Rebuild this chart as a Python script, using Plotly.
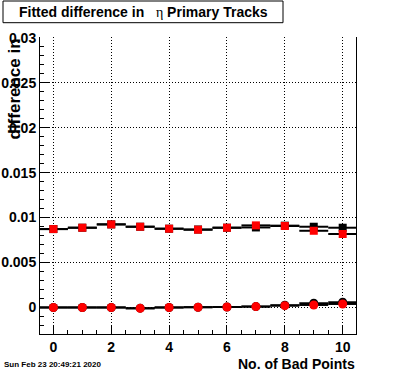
import plotly.graph_objects as go

# ---- data ----
bad_points = [0, 1, 2, 3, 4, 5, 6, 7, 8, 9, 10]
upper_black = [0.00872, 0.00887, 0.00924, 0.00898, 0.00876, 0.00867, 0.00887, 0.00890, 0.00910, 0.00898, 0.00887]
upper_red = [0.00872, 0.00887, 0.00924, 0.00898, 0.00876, 0.00865, 0.00887, 0.00913, 0.00906, 0.00853, 0.00817]
lower_black = [0.0, 0.0, 0.0, -0.00008, 0.0, 0.00003, 0.00005, 0.00010, 0.00025, 0.00047, 0.00058]
lower_red = [0.0, 0.0, 0.0, -0.00010, 0.0, 0.00003, 0.00005, 0.00010, 0.00020, 0.00028, 0.00039]
bin_half_width = 0.5

x_tickvals = [0, 2, 4, 6, 8, 10]
x_ticktext = ["0", "2", "4", "6", "8", "10"]
y_tickvals = [0, 0.005, 0.01, 0.015, 0.02, 0.025, 0.03]
y_ticktext = ["0", "0.005", "0.01", "0.015", "0.02", "0.025", "0.03"]

title_text = ("Fitted difference in   <span style=\"font-family:Liberation Serif;"
              "font-weight:normal;color:black\">η</span> Primary Tracks")
x_title = "No. of Bad Points"
y_title = "difference in"
date_text = "Sun Feb 23 20:49:21 2020"

W, H = 396, 372
L, R, T, B = 40, 40, 37, 38
PW, PH = W - L - R, H - T - B


def px_x(px):
    return (px - L) / PW


def px_y(py):
    return (H - B - py) / PH


FONT = "Liberation Sans, Arial, sans-serif"

fig = go.Figure()


def add_series(yvals, color, symbol, size):
    fig.add_trace(go.Scatter(
        x=bad_points, y=yvals, mode="markers",
        marker=dict(color=color, symbol=symbol, size=size, line=dict(width=0)),
        error_x=dict(type="constant", value=bin_half_width, width=0, thickness=2, color="black"),
        showlegend=False, hoverinfo="skip",
    ))


add_series(upper_black, "black", "square", 8)
add_series(lower_black, "black", "circle", 9)
add_series(upper_red, "red", "square", 8)
add_series(lower_red, "red", "circle", 9)

axis_font = dict(family=FONT, size=14, color="black", weight="bold")

fig.update_layout(
    width=W, height=H,
    margin=dict(l=L, r=R, t=T, b=B, pad=0, autoexpand=False),
    paper_bgcolor="white", plot_bgcolor="white",
    xaxis=dict(
        range=[-0.463, 10.46], tickvals=x_tickvals, ticktext=x_ticktext, automargin=False,
        ticks="inside", ticklen=8, tickwidth=1, tickcolor="black",
        showline=True, linecolor="black", linewidth=1, mirror=False,
        showgrid=True, gridcolor="black", gridwidth=1, griddash="1px,2px",
        zeroline=False, tickfont=axis_font,
        minor=dict(dtick=0.5, tick0=-0.5, ticks="inside", ticklen=4, tickcolor="black", showgrid=False),
    ),
    yaxis=dict(
        range=[-0.00295, 0.03008], tickvals=y_tickvals, ticktext=y_ticktext, automargin=False,
        ticks="inside", ticklen=9, tickwidth=1, tickcolor="black",
        showline=True, linecolor="black", linewidth=1, mirror=True,
        showgrid=True, gridcolor="black", gridwidth=1, griddash="1px,2px",
        zeroline=False, tickfont=axis_font,
        minor=dict(dtick=0.001, tick0=0, ticks="inside", ticklen=4, tickcolor="black", showgrid=False),
    ),
)

# title box
fig.add_shape(type="rect", xref="paper", yref="paper",
              x0=px_x(3), x1=px_x(283), y0=px_y(22.7), y1=px_y(1),
              line=dict(color="black", width=1), fillcolor="white", layer="above")
fig.add_annotation(text=title_text, xref="paper", yref="paper",
                   x=px_x(143), y=px_y(12), xanchor="center", yanchor="middle",
                   showarrow=False, font=dict(family=FONT, size=14, color="black", weight="bold"))

# axis titles
fig.add_annotation(text=x_title, xref="paper", yref="paper",
                   x=px_x(357), y=px_y(364), xanchor="right", yanchor="middle",
                   showarrow=False, font=dict(family=FONT, size=14, color="black", weight="bold"))
fig.add_annotation(text=y_title, xref="paper", yref="paper",
                   x=px_x(14), y=px_y(37), xanchor="center", yanchor="top", textangle=-90,
                   showarrow=False, font=dict(family=FONT, size=17, color="black", weight="bold"))

# date stamp
fig.add_annotation(text=date_text, xref="paper", yref="paper",
                   x=px_x(1.5), y=px_y(364), xanchor="left", yanchor="middle",
                   showarrow=False, font=dict(family=FONT, size=8, color="black", weight="bold"))

fig.write_html("out.html", post_script="document.body.style.margin='0px';",
               config={"displayModeBar": False})
